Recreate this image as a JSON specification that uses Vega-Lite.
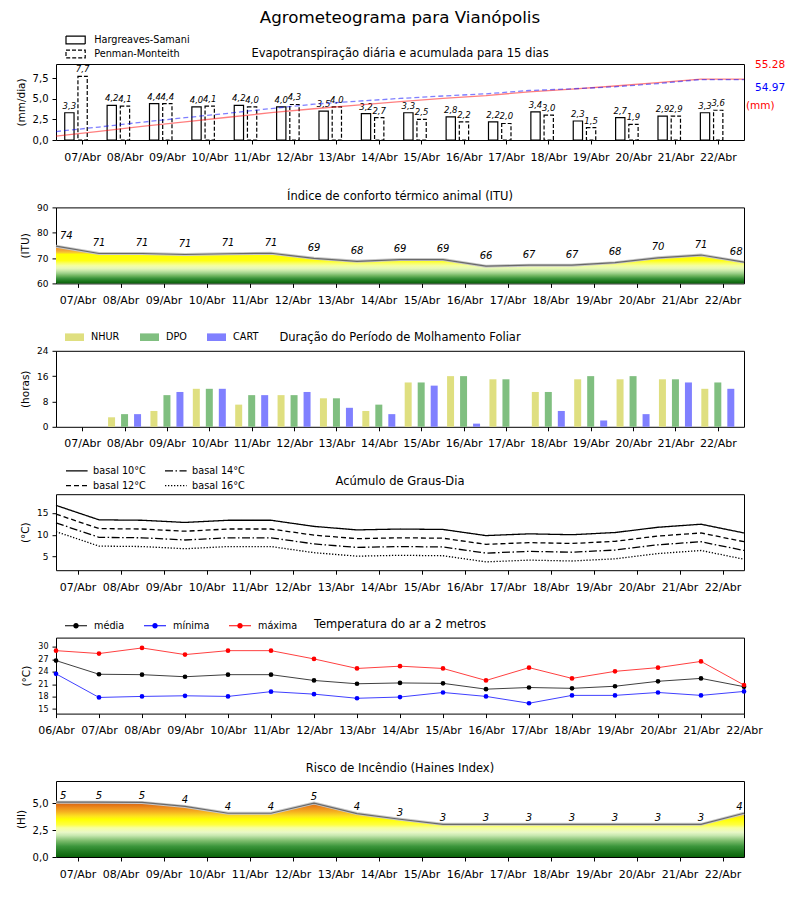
{
  "$schema": "https://vega.github.io/schema/vega-lite/v6.json",
  "background": "white",
  "padding": {"left": 15, "top": 10, "right": 5, "bottom": 5},
  "title": {"text": "Agrometeograma para Vianópolis", "fontSize": 16.7, "frame": "group", "anchor": "middle", "offset": 5.5},
  "bounds": "flush",
  "spacing": 67.4,
  "config": {
    "font": "DejaVu Sans",
    "view": {"stroke": "black", "strokeWidth": 1},
    "title": {"font": "DejaVu Sans", "fontSize": 11.5, "fontWeight": "normal", "color": "black", "offset": 1},
    "axis": {"grid": false, "domain": false, "ticks": true, "tickColor": "black", "tickSize": 4, "tickWidth": 1, "labelColor": "black", "labelFont": "DejaVu Sans", "titleFont": "DejaVu Sans", "titleFontWeight": "normal", "titleColor": "black", "titleFontSize": 10.5},
    "axisX": {"labelFontSize": 11, "labelPadding": 7, "title": null, "labelFlush": false, "labelOverlap": false},
    "axisY": {"labelFontSize": 10, "labelPadding": 4, "titlePadding": 6, "labelOverlap": false},
    "legend": {"labelFont": "DejaVu Sans", "labelFontSize": 9.7, "labelColor": "black", "padding": 0, "labelOffset": 7, "rowPadding": 3, "columnPadding": 18, "orient": "none"},
    "text": {"font": "DejaVu Sans"}
  },
  "resolve": {"scale": {"color": "independent", "strokeDash": "independent", "stroke": "independent"}},
  "datasets": {
    "et": [
      {"dia": 7, "metodo": "Hargreaves-Samani", "et": 3.3}, {"dia": 8, "metodo": "Hargreaves-Samani", "et": 4.2},
      {"dia": 9, "metodo": "Hargreaves-Samani", "et": 4.4}, {"dia": 10, "metodo": "Hargreaves-Samani", "et": 4.0},
      {"dia": 11, "metodo": "Hargreaves-Samani", "et": 4.2}, {"dia": 12, "metodo": "Hargreaves-Samani", "et": 4.0},
      {"dia": 13, "metodo": "Hargreaves-Samani", "et": 3.5}, {"dia": 14, "metodo": "Hargreaves-Samani", "et": 3.2},
      {"dia": 15, "metodo": "Hargreaves-Samani", "et": 3.3}, {"dia": 16, "metodo": "Hargreaves-Samani", "et": 2.8},
      {"dia": 17, "metodo": "Hargreaves-Samani", "et": 2.2}, {"dia": 18, "metodo": "Hargreaves-Samani", "et": 3.4},
      {"dia": 19, "metodo": "Hargreaves-Samani", "et": 2.3}, {"dia": 20, "metodo": "Hargreaves-Samani", "et": 2.7},
      {"dia": 21, "metodo": "Hargreaves-Samani", "et": 2.9}, {"dia": 22, "metodo": "Hargreaves-Samani", "et": 3.3},
      {"dia": 7, "metodo": "Penman-Monteith", "et": 7.7}, {"dia": 8, "metodo": "Penman-Monteith", "et": 4.1},
      {"dia": 9, "metodo": "Penman-Monteith", "et": 4.4}, {"dia": 10, "metodo": "Penman-Monteith", "et": 4.1},
      {"dia": 11, "metodo": "Penman-Monteith", "et": 4.0}, {"dia": 12, "metodo": "Penman-Monteith", "et": 4.3},
      {"dia": 13, "metodo": "Penman-Monteith", "et": 4.0}, {"dia": 14, "metodo": "Penman-Monteith", "et": 2.7},
      {"dia": 15, "metodo": "Penman-Monteith", "et": 2.5}, {"dia": 16, "metodo": "Penman-Monteith", "et": 2.2},
      {"dia": 17, "metodo": "Penman-Monteith", "et": 2.0}, {"dia": 18, "metodo": "Penman-Monteith", "et": 3.0},
      {"dia": 19, "metodo": "Penman-Monteith", "et": 1.5}, {"dia": 20, "metodo": "Penman-Monteith", "et": 1.9},
      {"dia": 21, "metodo": "Penman-Monteith", "et": 2.9}, {"dia": 22, "metodo": "Penman-Monteith", "et": 3.6}
    ],
    "etacum": [
      {"t": 6, "metodo": "HS", "acum": 3.5}, {"t": 7, "metodo": "HS", "acum": 7.8}, {"t": 8, "metodo": "HS", "acum": 12.3},
      {"t": 9, "metodo": "HS", "acum": 16.4}, {"t": 10, "metodo": "HS", "acum": 20.7}, {"t": 11, "metodo": "HS", "acum": 24.8},
      {"t": 12, "metodo": "HS", "acum": 28.4}, {"t": 13, "metodo": "HS", "acum": 31.7}, {"t": 14, "metodo": "HS", "acum": 34.9},
      {"t": 15, "metodo": "HS", "acum": 37.9}, {"t": 16, "metodo": "HS", "acum": 40.3}, {"t": 17, "metodo": "HS", "acum": 43.8},
      {"t": 18, "metodo": "HS", "acum": 46.3}, {"t": 19, "metodo": "HS", "acum": 49.1}, {"t": 20, "metodo": "HS", "acum": 52.1},
      {"t": 21, "metodo": "HS", "acum": 55.28}, {"t": 22, "metodo": "HS", "acum": 55.28},
      {"t": 6, "metodo": "PM", "acum": 7.7}, {"t": 7, "metodo": "PM", "acum": 11.8}, {"t": 8, "metodo": "PM", "acum": 16.2},
      {"t": 9, "metodo": "PM", "acum": 20.3}, {"t": 10, "metodo": "PM", "acum": 24.3}, {"t": 11, "metodo": "PM", "acum": 28.6},
      {"t": 12, "metodo": "PM", "acum": 32.6}, {"t": 13, "metodo": "PM", "acum": 35.3}, {"t": 14, "metodo": "PM", "acum": 37.8},
      {"t": 15, "metodo": "PM", "acum": 40.0}, {"t": 16, "metodo": "PM", "acum": 42.0}, {"t": 17, "metodo": "PM", "acum": 45.0},
      {"t": 18, "metodo": "PM", "acum": 46.5}, {"t": 19, "metodo": "PM", "acum": 48.4}, {"t": 20, "metodo": "PM", "acum": 51.3},
      {"t": 21, "metodo": "PM", "acum": 54.97}, {"t": 22, "metodo": "PM", "acum": 54.97}
    ],
    "itu": [
      {"t": 6, "itu": 74.7, "rot": "74"}, {"t": 7, "itu": 71.8, "rot": "71"}, {"t": 8, "itu": 71.8, "rot": "71"},
      {"t": 9, "itu": 71.4, "rot": "71"}, {"t": 10, "itu": 71.7, "rot": "71"}, {"t": 11, "itu": 71.9, "rot": "71"},
      {"t": 12, "itu": 69.9, "rot": "69"}, {"t": 13, "itu": 68.7, "rot": "68"}, {"t": 14, "itu": 69.4, "rot": "69"},
      {"t": 15, "itu": 69.4, "rot": "69"}, {"t": 16, "itu": 66.8, "rot": "66"}, {"t": 17, "itu": 67.2, "rot": "67"},
      {"t": 18, "itu": 67.2, "rot": "67"}, {"t": 19, "itu": 68.2, "rot": "68"}, {"t": 20, "itu": 70.1, "rot": "70"},
      {"t": 21, "itu": 71.2, "rot": "71"}, {"t": 22, "itu": 68.4, "rot": "68"}
    ],
    "molh": [
      {"dia": 7, "indice": "NHUR", "horas": 0}, {"dia": 7, "indice": "DPO", "horas": 0}, {"dia": 7, "indice": "CART", "horas": 0},
      {"dia": 8, "indice": "NHUR", "horas": 3}, {"dia": 8, "indice": "DPO", "horas": 4}, {"dia": 8, "indice": "CART", "horas": 4},
      {"dia": 9, "indice": "NHUR", "horas": 5}, {"dia": 9, "indice": "DPO", "horas": 10}, {"dia": 9, "indice": "CART", "horas": 11},
      {"dia": 10, "indice": "NHUR", "horas": 12}, {"dia": 10, "indice": "DPO", "horas": 12}, {"dia": 10, "indice": "CART", "horas": 12},
      {"dia": 11, "indice": "NHUR", "horas": 7}, {"dia": 11, "indice": "DPO", "horas": 10}, {"dia": 11, "indice": "CART", "horas": 10},
      {"dia": 12, "indice": "NHUR", "horas": 10}, {"dia": 12, "indice": "DPO", "horas": 10}, {"dia": 12, "indice": "CART", "horas": 11},
      {"dia": 13, "indice": "NHUR", "horas": 9}, {"dia": 13, "indice": "DPO", "horas": 9}, {"dia": 13, "indice": "CART", "horas": 6},
      {"dia": 14, "indice": "NHUR", "horas": 5}, {"dia": 14, "indice": "DPO", "horas": 7}, {"dia": 14, "indice": "CART", "horas": 4},
      {"dia": 15, "indice": "NHUR", "horas": 14}, {"dia": 15, "indice": "DPO", "horas": 14}, {"dia": 15, "indice": "CART", "horas": 13},
      {"dia": 16, "indice": "NHUR", "horas": 16}, {"dia": 16, "indice": "DPO", "horas": 16}, {"dia": 16, "indice": "CART", "horas": 1},
      {"dia": 17, "indice": "NHUR", "horas": 15}, {"dia": 17, "indice": "DPO", "horas": 15}, {"dia": 17, "indice": "CART", "horas": 0},
      {"dia": 18, "indice": "NHUR", "horas": 11}, {"dia": 18, "indice": "DPO", "horas": 11}, {"dia": 18, "indice": "CART", "horas": 5},
      {"dia": 19, "indice": "NHUR", "horas": 15}, {"dia": 19, "indice": "DPO", "horas": 16}, {"dia": 19, "indice": "CART", "horas": 2},
      {"dia": 20, "indice": "NHUR", "horas": 15}, {"dia": 20, "indice": "DPO", "horas": 16}, {"dia": 20, "indice": "CART", "horas": 4},
      {"dia": 21, "indice": "NHUR", "horas": 15}, {"dia": 21, "indice": "DPO", "horas": 15}, {"dia": 21, "indice": "CART", "horas": 14},
      {"dia": 22, "indice": "NHUR", "horas": 12}, {"dia": 22, "indice": "DPO", "horas": 14}, {"dia": 22, "indice": "CART", "horas": 12}
    ],
    "gd": [
      {"t": 6, "basal": "basal 10°C", "gd": 16.7}, {"t": 7, "basal": "basal 10°C", "gd": 13.4}, {"t": 8, "basal": "basal 10°C", "gd": 13.3},
      {"t": 9, "basal": "basal 10°C", "gd": 12.8}, {"t": 10, "basal": "basal 10°C", "gd": 13.3}, {"t": 11, "basal": "basal 10°C", "gd": 13.3},
      {"t": 12, "basal": "basal 10°C", "gd": 11.9}, {"t": 13, "basal": "basal 10°C", "gd": 11.1}, {"t": 14, "basal": "basal 10°C", "gd": 11.3},
      {"t": 15, "basal": "basal 10°C", "gd": 11.2}, {"t": 16, "basal": "basal 10°C", "gd": 9.8}, {"t": 17, "basal": "basal 10°C", "gd": 10.2},
      {"t": 18, "basal": "basal 10°C", "gd": 10.0}, {"t": 19, "basal": "basal 10°C", "gd": 10.5}, {"t": 20, "basal": "basal 10°C", "gd": 11.7},
      {"t": 21, "basal": "basal 10°C", "gd": 12.4}, {"t": 22, "basal": "basal 10°C", "gd": 10.4},
      {"t": 6, "basal": "basal 12°C", "gd": 14.7}, {"t": 7, "basal": "basal 12°C", "gd": 11.4}, {"t": 8, "basal": "basal 12°C", "gd": 11.3},
      {"t": 9, "basal": "basal 12°C", "gd": 10.8}, {"t": 10, "basal": "basal 12°C", "gd": 11.3}, {"t": 11, "basal": "basal 12°C", "gd": 11.3},
      {"t": 12, "basal": "basal 12°C", "gd": 9.9}, {"t": 13, "basal": "basal 12°C", "gd": 9.1}, {"t": 14, "basal": "basal 12°C", "gd": 9.3},
      {"t": 15, "basal": "basal 12°C", "gd": 9.2}, {"t": 16, "basal": "basal 12°C", "gd": 7.8}, {"t": 17, "basal": "basal 12°C", "gd": 8.2},
      {"t": 18, "basal": "basal 12°C", "gd": 8.0}, {"t": 19, "basal": "basal 12°C", "gd": 8.5}, {"t": 20, "basal": "basal 12°C", "gd": 9.7},
      {"t": 21, "basal": "basal 12°C", "gd": 10.4}, {"t": 22, "basal": "basal 12°C", "gd": 8.4},
      {"t": 6, "basal": "basal 14°C", "gd": 12.7}, {"t": 7, "basal": "basal 14°C", "gd": 9.4}, {"t": 8, "basal": "basal 14°C", "gd": 9.3},
      {"t": 9, "basal": "basal 14°C", "gd": 8.8}, {"t": 10, "basal": "basal 14°C", "gd": 9.3}, {"t": 11, "basal": "basal 14°C", "gd": 9.3},
      {"t": 12, "basal": "basal 14°C", "gd": 7.9}, {"t": 13, "basal": "basal 14°C", "gd": 7.1}, {"t": 14, "basal": "basal 14°C", "gd": 7.3},
      {"t": 15, "basal": "basal 14°C", "gd": 7.2}, {"t": 16, "basal": "basal 14°C", "gd": 5.8}, {"t": 17, "basal": "basal 14°C", "gd": 6.2},
      {"t": 18, "basal": "basal 14°C", "gd": 6.0}, {"t": 19, "basal": "basal 14°C", "gd": 6.5}, {"t": 20, "basal": "basal 14°C", "gd": 7.7},
      {"t": 21, "basal": "basal 14°C", "gd": 8.4}, {"t": 22, "basal": "basal 14°C", "gd": 6.4},
      {"t": 6, "basal": "basal 16°C", "gd": 10.7}, {"t": 7, "basal": "basal 16°C", "gd": 7.4}, {"t": 8, "basal": "basal 16°C", "gd": 7.3},
      {"t": 9, "basal": "basal 16°C", "gd": 6.8}, {"t": 10, "basal": "basal 16°C", "gd": 7.3}, {"t": 11, "basal": "basal 16°C", "gd": 7.3},
      {"t": 12, "basal": "basal 16°C", "gd": 5.9}, {"t": 13, "basal": "basal 16°C", "gd": 5.1}, {"t": 14, "basal": "basal 16°C", "gd": 5.3},
      {"t": 15, "basal": "basal 16°C", "gd": 5.2}, {"t": 16, "basal": "basal 16°C", "gd": 3.8}, {"t": 17, "basal": "basal 16°C", "gd": 4.2},
      {"t": 18, "basal": "basal 16°C", "gd": 4.0}, {"t": 19, "basal": "basal 16°C", "gd": 4.5}, {"t": 20, "basal": "basal 16°C", "gd": 5.7},
      {"t": 21, "basal": "basal 16°C", "gd": 6.4}, {"t": 22, "basal": "basal 16°C", "gd": 4.4}
    ],
    "temp": [
      {"t": 6, "serie": "média", "temp": 26.7}, {"t": 7, "serie": "média", "temp": 23.4}, {"t": 8, "serie": "média", "temp": 23.3},
      {"t": 9, "serie": "média", "temp": 22.8}, {"t": 10, "serie": "média", "temp": 23.3}, {"t": 11, "serie": "média", "temp": 23.3},
      {"t": 12, "serie": "média", "temp": 21.9}, {"t": 13, "serie": "média", "temp": 21.1}, {"t": 14, "serie": "média", "temp": 21.3},
      {"t": 15, "serie": "média", "temp": 21.2}, {"t": 16, "serie": "média", "temp": 19.8}, {"t": 17, "serie": "média", "temp": 20.2},
      {"t": 18, "serie": "média", "temp": 20.0}, {"t": 19, "serie": "média", "temp": 20.5}, {"t": 20, "serie": "média", "temp": 21.7},
      {"t": 21, "serie": "média", "temp": 22.4}, {"t": 22, "serie": "média", "temp": 20.4},
      {"t": 6, "serie": "mínima", "temp": 23.5}, {"t": 7, "serie": "mínima", "temp": 17.8}, {"t": 8, "serie": "mínima", "temp": 18.05},
      {"t": 9, "serie": "mínima", "temp": 18.2}, {"t": 10, "serie": "mínima", "temp": 18.05}, {"t": 11, "serie": "mínima", "temp": 19.2},
      {"t": 12, "serie": "mínima", "temp": 18.6}, {"t": 13, "serie": "mínima", "temp": 17.6}, {"t": 14, "serie": "mínima", "temp": 17.9},
      {"t": 15, "serie": "mínima", "temp": 19.0}, {"t": 16, "serie": "mínima", "temp": 18.05}, {"t": 17, "serie": "mínima", "temp": 16.4},
      {"t": 18, "serie": "mínima", "temp": 18.3}, {"t": 19, "serie": "mínima", "temp": 18.3}, {"t": 20, "serie": "mínima", "temp": 19.0},
      {"t": 21, "serie": "mínima", "temp": 18.3}, {"t": 22, "serie": "mínima", "temp": 19.25},
      {"t": 6, "serie": "máxima", "temp": 29.1}, {"t": 7, "serie": "máxima", "temp": 28.4}, {"t": 8, "serie": "máxima", "temp": 29.75},
      {"t": 9, "serie": "máxima", "temp": 28.15}, {"t": 10, "serie": "máxima", "temp": 29.1}, {"t": 11, "serie": "máxima", "temp": 29.1},
      {"t": 12, "serie": "máxima", "temp": 27.1}, {"t": 13, "serie": "máxima", "temp": 24.8}, {"t": 14, "serie": "máxima", "temp": 25.35},
      {"t": 15, "serie": "máxima", "temp": 24.8}, {"t": 16, "serie": "máxima", "temp": 21.9}, {"t": 17, "serie": "máxima", "temp": 25.0},
      {"t": 18, "serie": "máxima", "temp": 22.4}, {"t": 19, "serie": "máxima", "temp": 24.1}, {"t": 20, "serie": "máxima", "temp": 25.0},
      {"t": 21, "serie": "máxima", "temp": 26.5}, {"t": 22, "serie": "máxima", "temp": 20.8}
    ],
    "haines": [
      {"t": 6, "hi": 5.09, "rot": "5"}, {"t": 7, "hi": 5.09, "rot": "5"}, {"t": 8, "hi": 5.06, "rot": "5"},
      {"t": 9, "hi": 4.69, "rot": "4"}, {"t": 10, "hi": 4.06, "rot": "4"}, {"t": 11, "hi": 4.06, "rot": "4"},
      {"t": 12, "hi": 5.0, "rot": "5"}, {"t": 13, "hi": 4.03, "rot": "4"}, {"t": 14, "hi": 3.5, "rot": "3"},
      {"t": 15, "hi": 3.03, "rot": "3"}, {"t": 16, "hi": 3.03, "rot": "3"}, {"t": 17, "hi": 3.03, "rot": "3"},
      {"t": 18, "hi": 3.03, "rot": "3"}, {"t": 19, "hi": 3.03, "rot": "3"}, {"t": 20, "hi": 3.03, "rot": "3"},
      {"t": 21, "hi": 3.03, "rot": "3"}, {"t": 22, "hi": 4.06, "rot": "4"}
    ]
  },
  "vconcat": [
    {
      "width": 688, "height": 76,
      "title": {"text": "Evapotranspiração diária e acumulada para 15 dias", "dy": 27.5},
      "layer": [
        {
          "data": {"name": "et"},
          "encoding": {
            "x": {"field": "dia", "type": "quantitative", "scale": {"domain": [6.5, 22.5], "nice": false, "zero": false},
                  "axis": {"values": [7,8,9,10,11,12,13,14,15,16,17,18,19,20,21,22], "labelExpr": "(datum.value < 10 ? '0' : '') + datum.value + '/Abr'"}},
            "y": {"field": "et", "type": "quantitative", "scale": {"domain": [0, 9.2], "nice": false},
                  "axis": {"values": [0, 2.5, 5, 7.5], "labelExpr": "replace(format(datum.value, '.1f'), '.', ',')", "title": "(mm/dia)"}},
            "stroke": {"field": "metodo", "type": "nominal", "scale": {"domain": ["Hargreaves-Samani", "Penman-Monteith"], "range": ["#000000", "#000000"]},
              "legend": {"title": null, "orient": "none", "legendX": 12.6, "legendY": -31, "direction": "vertical", "rowPadding": 0, "labelOffset": 11.6,
                         "symbolType": "M-1.6,-0.65H1.6V0.65H-1.6Z", "symbolSize": 144, "symbolFillColor": "white", "symbolStrokeWidth": 1.2}},
            "strokeDash": {"field": "metodo", "type": "nominal", "scale": {"domain": ["Hargreaves-Samani", "Penman-Monteith"], "range": [[1, 0], [4, 2]]},
              "legend": {"title": null, "orient": "none", "legendX": 12.6, "legendY": -31, "direction": "vertical", "rowPadding": 0, "labelOffset": 11.6,
                         "symbolType": "M-1.6,-0.65H1.6V0.65H-1.6Z", "symbolSize": 144, "symbolFillColor": "white", "symbolStrokeWidth": 1.2}}
          },
          "layer": [
            {
              "transform": [{"filter": "datum.metodo === 'Hargreaves-Samani'"}],
              "mark": {"type": "bar", "width": 9.3, "xOffset": -12.8, "fill": "white", "strokeWidth": 1.2}
            },
            {
              "transform": [{"filter": "datum.metodo === 'Penman-Monteith'"}],
              "mark": {"type": "bar", "width": 9.3, "xOffset": 0.4, "fill": "white", "strokeWidth": 1.2}
            },
            {
              "transform": [{"filter": "datum.metodo === 'Hargreaves-Samani'"}],
              "mark": {"type": "text", "xOffset": -12.8, "dy": -2, "baseline": "bottom", "fontSize": 8.5, "fontStyle": "italic", "text": {"expr": "replace(format(datum.et, '.1f'), '.', ',')"}},
              "encoding": {"stroke": {"value": null}, "strokeDash": {"value": null}, "color": {"value": "black"}}
            },
            {
              "transform": [{"filter": "datum.metodo === 'Penman-Monteith'"}],
              "mark": {"type": "text", "xOffset": 0.4, "dy": -2, "baseline": "bottom", "fontSize": 8.5, "fontStyle": "italic", "text": {"expr": "replace(format(datum.et, '.1f'), '.', ',')"}},
              "encoding": {"stroke": {"value": null}, "strokeDash": {"value": null}, "color": {"value": "black"}}
            }
          ]
        },
        {
          "data": {"name": "etacum"},
          "encoding": {
            "x": {"field": "t", "type": "quantitative", "scale": {"domain": [6, 22], "nice": false, "zero": false}, "axis": null},
            "y": {"field": "acum", "type": "quantitative", "scale": {"domain": [0, 69.1], "nice": false}, "axis": null}
          },
          "layer": [
            {"transform": [{"filter": "datum.metodo === 'HS'"}], "mark": {"type": "line", "stroke": "#ff0000", "strokeOpacity": 0.5, "strokeWidth": 1.3}, "encoding": {}},
            {"transform": [{"filter": "datum.metodo === 'PM'"}], "mark": {"type": "line", "stroke": "#0000ff", "strokeOpacity": 0.5, "strokeWidth": 1.3, "strokeDash": [5, 3]}, "encoding": {}},
            {"transform": [{"filter": "datum.metodo === 'HS' && datum.t === 22"}], "mark": {"type": "text", "align": "left", "baseline": "middle", "dx": 11, "dy": -14, "fontSize": 10.5, "color": "#ff0000"},
             "encoding": {"text": {"field": "acum", "type": "quantitative", "format": ".2f"}}},
            {"transform": [{"filter": "datum.metodo === 'PM' && datum.t === 22"}], "mark": {"type": "text", "align": "left", "baseline": "middle", "dx": 11, "dy": 8.5, "fontSize": 10.5, "color": "#0000ff"},
             "encoding": {"text": {"field": "acum", "type": "quantitative", "format": ".2f"}}},
            {"transform": [{"filter": "datum.metodo === 'HS' && datum.t === 22"}], "mark": {"type": "text", "align": "left", "baseline": "middle", "dx": 2, "dy": 27, "fontSize": 10.5, "color": "#ff0000", "text": "(mm)"},
             "encoding": {}}
          ]
        }
      ],
      "resolve": {"scale": {"x": "independent", "y": "independent"}}
    },
    {
      "width": 688, "height": 76,
      "title": "Índice de conforto térmico animal (ITU)",
      "data": {"name": "itu"},
      "encoding": {
        "x": {"field": "t", "type": "quantitative", "scale": {"domain": [6, 22], "nice": false, "zero": false},
              "axis": {"values": [6.5,7.5,8.5,9.5,10.5,11.5,12.5,13.5,14.5,15.5,16.5,17.5,18.5,19.5,20.5,21.5], "labelExpr": "(floor(datum.value) + 1 < 10 ? '0' : '') + (floor(datum.value) + 1) + '/Abr'"}},
        "y": {"field": "itu", "type": "quantitative", "scale": {"domain": [60, 90], "nice": false, "zero": false},
              "axis": {"values": [60, 70, 80, 90], "title": "(ITU)", "labelFontSize": 9}}
      },
      "layer": [
        {"mark": {"type": "area", "fill": {"gradient": "linear", "x1": 0, "y1": 1, "x2": 0, "y2": 0, "stops": [
            {"offset": 0, "color": "#0a5f0a"}, {"offset": 0.068, "color": "#1e7a1e"}, {"offset": 0.136, "color": "#3d943d"},
            {"offset": 0.204, "color": "#6eb45e"}, {"offset": 0.272, "color": "#9dd08a"}, {"offset": 0.34, "color": "#c8e8a8"},
            {"offset": 0.408, "color": "#e8f8b8"}, {"offset": 0.476, "color": "#f4ffa0"}, {"offset": 0.544, "color": "#faff60"},
            {"offset": 0.612, "color": "#ffff10"}, {"offset": 0.782, "color": "#ffff00"}, {"offset": 0.83, "color": "#f8c830"},
            {"offset": 0.884, "color": "#f0a838"}, {"offset": 1, "color": "#e88a30"}]}},
         "encoding": {"y2": {"datum": 60}}},
        {"mark": {"type": "line", "stroke": "#c8c8c8", "strokeWidth": 3}, "encoding": {}},
        {"mark": {"type": "line", "stroke": "#6a6a6a", "strokeWidth": 1.2}, "encoding": {}},
        {"transform": [{"filter": "datum.t > 6 && datum.t < 22"}], "mark": {"type": "text", "dy": -10.5, "baseline": "middle", "fontSize": 10, "fontStyle": "italic", "color": "black"}, "encoding": {"text": {"field": "rot"}}},
        {"transform": [{"filter": "datum.t === 6"}], "mark": {"type": "text", "dy": -10.5, "dx": 4, "align": "left", "baseline": "middle", "fontSize": 10, "fontStyle": "italic", "color": "black"}, "encoding": {"text": {"field": "rot"}}},
        {"transform": [{"filter": "datum.t === 22"}], "mark": {"type": "text", "dy": -10.5, "dx": -1.5, "align": "right", "baseline": "middle", "fontSize": 10, "fontStyle": "italic", "color": "black"}, "encoding": {"text": {"field": "rot"}}}
      ]
    },
    {
      "width": 688, "height": 76,
      "title": {"text": "Duração do Período de Molhamento Foliar", "dy": 17},
      "data": {"name": "molh"},
      "encoding": {
        "x": {"field": "dia", "type": "quantitative", "scale": {"domain": [6.5, 22.5], "nice": false, "zero": false},
              "axis": {"values": [7,8,9,10,11,12,13,14,15,16,17,18,19,20,21,22], "labelExpr": "(datum.value < 10 ? '0' : '') + datum.value + '/Abr'"}},
        "y": {"field": "horas", "type": "quantitative", "scale": {"domain": [0, 24], "nice": false},
              "axis": {"values": [0, 8, 16, 24], "title": "(horas)", "labelFontSize": 9}},
        "color": {"field": "indice", "type": "nominal", "scale": {"domain": ["NHUR", "DPO", "CART"], "range": ["#dfdf80", "#80bf80", "#8080ff"]},
                  "legend": {"title": null, "orient": "none", "legendX": 9, "legendY": -23.5, "direction": "horizontal", "symbolType": "M-1,-0.4H1V0.4H-1Z", "symbolSize": 361, "symbolStrokeWidth": 0, "symbolOpacity": 1, "columnPadding": 20}}
      },
      "layer": [
        {"transform": [{"filter": "datum.indice === 'NHUR'"}], "mark": {"type": "bar", "width": 7, "xOffset": -13, "opacity": 1}},
        {"transform": [{"filter": "datum.indice === 'DPO'"}], "mark": {"type": "bar", "width": 7, "opacity": 1}},
        {"transform": [{"filter": "datum.indice === 'CART'"}], "mark": {"type": "bar", "width": 7, "xOffset": 13, "opacity": 1}}
      ]
    },
    {
      "width": 688, "height": 76,
      "title": {"text": "Acúmulo de Graus-Dia", "dy": 25},
      "data": {"name": "gd"},
      "mark": {"type": "line", "color": "black", "strokeWidth": 1.3},
      "encoding": {
        "x": {"field": "t", "type": "quantitative", "scale": {"domain": [6, 22], "nice": false, "zero": false},
              "axis": {"values": [6.5,7.5,8.5,9.5,10.5,11.5,12.5,13.5,14.5,15.5,16.5,17.5,18.5,19.5,20.5,21.5], "labelExpr": "(floor(datum.value) + 1 < 10 ? '0' : '') + (floor(datum.value) + 1) + '/Abr'"}},
        "y": {"field": "gd", "type": "quantitative", "scale": {"domain": [1.9, 19.25], "nice": false, "zero": false},
              "axis": {"values": [5, 10, 15], "title": "(°C)", "labelFontSize": 9}},
        "strokeDash": {"field": "basal", "type": "nominal",
                       "scale": {"domain": ["basal 10°C", "basal 12°C", "basal 14°C", "basal 16°C"], "range": [[1, 0], [5, 3], [8, 2.5, 1.5, 2.5], [1.3, 1.7]]},
                       "legend": {"title": null, "orient": "none", "legendX": 13.8, "legendY": -30.5, "columns": 2, "symbolType": "M-1.8,0H1.8", "symbolSize": 144, "symbolStrokeColor": "black", "symbolFillColor": "transparent", "symbolStrokeWidth": 1.3, "labelOffset": 9.3, "columnPadding": 15, "rowPadding": 3}}
      }
    },
    {
      "width": 688, "height": 76,
      "title": {"text": "Temperatura do ar a 2 metros", "dy": 17},
      "data": {"name": "temp"},
      "encoding": {
        "x": {"field": "t", "type": "quantitative", "scale": {"domain": [6, 22], "nice": false, "zero": false},
              "axis": {"values": [6,7,8,9,10,11,12,13,14,15,16,17,18,19,20,21,22], "labelExpr": "(datum.value < 10 ? '0' : '') + datum.value + '/Abr'"}},
        "y": {"field": "temp", "type": "quantitative", "scale": {"domain": [13.9, 32.25], "nice": false, "zero": false},
              "axis": {"values": [15, 18, 21, 24, 27, 30], "title": "(°C)", "labelFontSize": 8}},
        "color": {"field": "serie", "type": "nominal", "scale": {"domain": ["média", "mínima", "máxima"], "range": ["#000000", "#0000ff", "#ff0000"]},
                  "legend": {"title": null, "orient": "none", "legendX": 9, "legendY": -23, "direction": "horizontal",
                             "symbolType": "M-1,-0.05H1V0.05H-1Z M0.25,0A0.25,0.25,0,1,1,-0.25,0A0.25,0.25,0,1,1,0.25,0Z", "symbolSize": 484, "symbolStrokeWidth": 0, "symbolOpacity": 1, "columnPadding": 19}}
      },
      "layer": [
        {"mark": {"type": "line", "strokeWidth": 1, "strokeOpacity": 0.75}},
        {"mark": {"type": "point", "filled": true, "size": 22, "opacity": 1}}
      ]
    },
    {
      "width": 688, "height": 76,
      "title": {"text": "Risco de Incêndio (Haines Index)", "dy": -6},
      "data": {"name": "haines"},
      "encoding": {
        "x": {"field": "t", "type": "quantitative", "scale": {"domain": [6, 22], "nice": false, "zero": false},
              "axis": {"values": [6.5,7.5,8.5,9.5,10.5,11.5,12.5,13.5,14.5,15.5,16.5,17.5,18.5,19.5,20.5,21.5], "labelExpr": "(floor(datum.value) + 1 < 10 ? '0' : '') + (floor(datum.value) + 1) + '/Abr'"}},
        "y": {"field": "hi", "type": "quantitative", "scale": {"domain": [0, 7.05], "nice": false, "zero": false},
              "axis": {"values": [0, 2.5, 5], "labelExpr": "replace(format(datum.value, '.1f'), '.', ',')", "title": "(HI)"}}
      },
      "layer": [
        {"mark": {"type": "area", "fill": {"gradient": "linear", "x1": 0, "y1": 1, "x2": 0, "y2": 0, "stops": [
            {"offset": 0, "color": "#0a640a"}, {"offset": 0.098, "color": "#207a20"}, {"offset": 0.196, "color": "#3c963c"},
            {"offset": 0.295, "color": "#7cbc6c"}, {"offset": 0.393, "color": "#c8e8b0"}, {"offset": 0.452, "color": "#eaf8c8"},
            {"offset": 0.53, "color": "#f6ffa0"}, {"offset": 0.589, "color": "#ffff40"}, {"offset": 0.688, "color": "#ffff00"},
            {"offset": 0.747, "color": "#fde020"}, {"offset": 0.825, "color": "#f5b020"}, {"offset": 0.904, "color": "#ec8a1c"},
            {"offset": 1, "color": "#d45a10"}]}},
         "encoding": {"y2": {"datum": 0}}},
        {"mark": {"type": "line", "stroke": "#c8c8c8", "strokeWidth": 3}, "encoding": {}},
        {"mark": {"type": "line", "stroke": "#6a6a6a", "strokeWidth": 1.2}, "encoding": {}},
        {"transform": [{"filter": "datum.t > 6 && datum.t < 22"}], "mark": {"type": "text", "dy": -6.5, "baseline": "middle", "fontSize": 10, "fontStyle": "italic", "color": "black"}, "encoding": {"text": {"field": "rot"}}},
        {"transform": [{"filter": "datum.t === 6"}], "mark": {"type": "text", "dy": -6.5, "dx": 4, "align": "left", "baseline": "middle", "fontSize": 10, "fontStyle": "italic", "color": "black"}, "encoding": {"text": {"field": "rot"}}},
        {"transform": [{"filter": "datum.t === 22"}], "mark": {"type": "text", "dy": -6.5, "dx": -1.5, "align": "right", "baseline": "middle", "fontSize": 10, "fontStyle": "italic", "color": "black"}, "encoding": {"text": {"field": "rot"}}}
      ]
    }
  ]
}
